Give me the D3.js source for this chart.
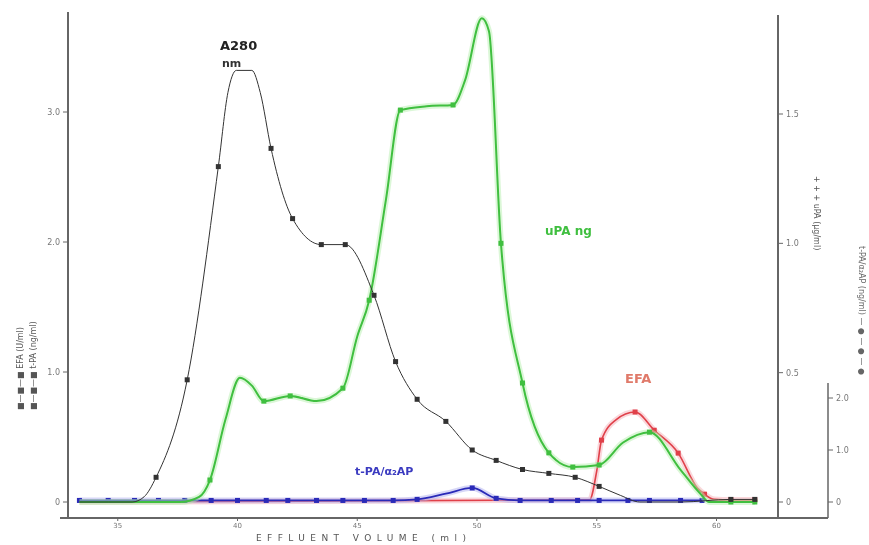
<!DOCTYPE html>
<html>
<head>
<meta charset="utf-8">
<script src="https://cdn.jsdelivr.net/npm/d3@7"></script>
<style>
  body { margin: 0; background: #fff; }
  svg { display: block; font-family: "DejaVu Sans", sans-serif; }
</style>
</head>
<body>
<div id="chart"></div>
<script>
(function() {
    var width = 869,
        height = 545;

    // effluent volume (ml) and values
    var a280Vol = [33.4, 34.6, 35.6, 36.1, 36.6, 37.9, 39.2, 39.6, 39.95, 40.6, 40.95, 41.4, 42.3, 43.5, 44.5, 45.7, 46.6, 47.5, 48.7, 49.8, 50.8, 51.9, 53.0, 54.1, 55.1, 56.0, 56.8, 58.5, 60.6, 61.6];
    var a280Val = [0, 0, 0, 0.04, 0.19, 0.94, 2.58, 3.15, 3.32, 3.32, 3.15, 2.72, 2.18, 1.98, 1.98, 1.59, 1.08, 0.79, 0.62, 0.40, 0.32, 0.25, 0.22, 0.19, 0.12, 0.05, 0, 0, 0.02, 0.02];
    var a280Mark = [0, 0, 0, 0, 1, 1, 1, 0, 0, 0, 0, 1, 1, 1, 1, 1, 1, 1, 1, 1, 1, 1, 1, 1, 1, 0, 0, 0, 1, 1];

    var upaVol = [33.4, 37.6, 38.4, 38.85, 39.5, 40.1, 40.6, 41.1, 42.2, 43.3, 44.4, 45.0, 45.5, 46.2, 46.8, 47.9, 49.0, 49.5, 50.2, 50.5, 51.0, 51.9, 53.0, 54.0, 55.1, 56.1, 57.2, 58.5, 59.3, 59.7, 60.6, 61.6];
    var upaVal = [0, 0, 0.02, 0.085, 0.32, 0.48, 0.45, 0.39, 0.41, 0.39, 0.44, 0.64, 0.78, 1.17, 1.515, 1.53, 1.535, 1.63, 1.87, 1.82, 1.00, 0.46, 0.19, 0.135, 0.143, 0.23, 0.27, 0.124, 0.035, 0, 0, 0];
    var upaMark = [0, 0, 0, 1, 0, 0, 0, 1, 1, 0, 1, 0, 1, 0, 1, 0, 1, 0, 0, 0, 1, 1, 1, 1, 1, 0, 1, 0, 0, 0, 1, 1];

    var efaVol = [33.4, 54.7, 55.0, 55.2, 55.8, 56.6, 57.4, 58.4, 59.2, 59.5, 59.9, 60.6, 61.6];
    var efaVal = [0, 0.04, 0.6, 1.19, 1.58, 1.73, 1.38, 0.94, 0.27, 0.15, 0.05, 0.04, 0.04];
    var efaMark = [0, 0, 0, 1, 0, 1, 1, 1, 0, 1, 0, 1, 1];

    var tpaVol = [33.4, 34.6, 35.7, 36.7, 37.8, 38.9, 40.0, 41.2, 42.1, 43.3, 44.4, 45.3, 46.5, 47.5, 48.7, 49.8, 50.8, 51.8, 53.1, 54.2, 55.1, 56.3, 57.2, 58.5, 59.4];
    var tpaVal = [0.03, 0.03, 0.03, 0.03, 0.03, 0.03, 0.03, 0.03, 0.03, 0.03, 0.03, 0.03, 0.03, 0.05, 0.16, 0.27, 0.07, 0.03, 0.03, 0.03, 0.03, 0.03, 0.03, 0.03, 0.03];
    var tpaMark = [1, 1, 1, 1, 1, 1, 1, 1, 1, 1, 1, 1, 1, 1, 0, 1, 1, 1, 1, 1, 1, 1, 1, 1, 1];

    var xTicks = [35, 40, 45, 50, 55, 60];
    var leftTicks = [0, 1, 2, 3];
    var leftLabels = ["0", "1.0", "2.0", "3.0"];
    var rightTicks = [0, 0.5, 1, 1.5];
    var rightLabels = ["0", "0.5", "1.0", "1.5"];
    var smallTicks = [0, 1, 2];
    var smallLabels = ["0", "1.0", "2.0"];

    var svg = d3.select("#chart")
        .append("svg")
        .attr("width", width)
        .attr("height", height);

    // the scan is soft, so blur everything a little
    svg.append("defs").append("filter")
        .attr("id", "soft")
        .append("feGaussianBlur")
        .attr("stdDeviation", 0.55);

    var g = svg.append("g").attr("filter", "url(#soft)");

    var x = d3.scaleLinear().domain([40, 50]).range([237.5, 477]);
    var yL = d3.scaleLinear().domain([0, 3]).range([502, 112]);
    var yR = d3.scaleLinear().domain([0, 1.5]).range([502, 114]);
    var yS = d3.scaleLinear().domain([0, 2]).range([502, 398]);

    // axes
    var axisColor = "#666";
    g.append("line").attr("x1", 60).attr("x2", 828).attr("y1", 518).attr("y2", 518)
        .attr("stroke", axisColor).attr("stroke-width", 2);
    g.append("line").attr("x1", 68).attr("x2", 68).attr("y1", 12).attr("y2", 518)
        .attr("stroke", axisColor).attr("stroke-width", 2);
    g.append("line").attr("x1", 778).attr("x2", 778).attr("y1", 15).attr("y2", 518)
        .attr("stroke", axisColor).attr("stroke-width", 2);
    g.append("line").attr("x1", 828).attr("x2", 828).attr("y1", 383).attr("y2", 518)
        .attr("stroke", axisColor).attr("stroke-width", 1.5);

    g.selectAll(".xtick")
        .data(xTicks)
        .enter().append("line")
        .attr("x1", function(d) { return x(d) }).attr("x2", function(d) { return x(d) })
        .attr("y1", 518).attr("y2", 521)
        .attr("stroke", axisColor);
    g.selectAll(".xlabel")
        .data(xTicks)
        .enter().append("text")
        .attr("x", function(d) { return x(d) })
        .attr("y", 528)
        .attr("text-anchor", "middle")
        .attr("font-size", 7)
        .attr("fill", "#777")
        .text(function(d) { return d });

    function yTicks(cls, ticks, labels, scale, xPos, side) {
        g.selectAll("." + cls + "-t")
            .data(ticks)
            .enter().append("line")
            .attr("x1", xPos).attr("x2", xPos + 5 * side)
            .attr("y1", function(d) { return scale(d) }).attr("y2", function(d) { return scale(d) })
            .attr("stroke", axisColor);
        g.selectAll("." + cls + "-l")
            .data(ticks)
            .enter().append("text")
            .attr("x", xPos + 8 * side)
            .attr("y", function(d) { return scale(d) + 3 })
            .attr("text-anchor", side < 0 ? "end" : "start")
            .attr("font-size", 8)
            .attr("fill", "#777")
            .text(function(d, i) { return labels[i] });
    }
    yTicks("left", leftTicks, leftLabels, yL, 68, -1);
    yTicks("right", rightTicks, rightLabels, yR, 778, 1);
    yTicks("small", smallTicks, smallLabels, yS, 828, 1);

    function series(vol, val, mark, scale, color, halo, lw) {
        var pts = vol.map(function(v, i) { return { v: v, y: val[i], m: mark[i] } });
        var line = d3.line()
            .x(function(d) { return x(d.v) })
            .y(function(d) { return scale(d.y) })
            .curve(d3.curveMonotoneX);
        if (halo) {
            g.append("path").attr("d", line(pts)).attr("fill", "none")
                .attr("stroke", halo).attr("stroke-width", lw + 4).attr("opacity", 0.5);
        }
        g.append("path").attr("d", line(pts)).attr("fill", "none")
            .attr("stroke", color).attr("stroke-width", lw);
        g.selectAll(null)
            .data(pts.filter(function(d) { return d.m }))
            .enter().append("rect")
            .attr("x", function(d) { return x(d.v) - 2.5 })
            .attr("y", function(d) { return scale(d.y) - 2.5 })
            .attr("width", 5).attr("height", 5)
            .attr("fill", color);
    }

    series(efaVol, efaVal, efaMark, yS, "#e0404a", "#f6b0b8", 1.6);
    series(tpaVol, tpaVal, tpaMark, yS, "#2a2ab8", "#b0b0f0", 1.8);
    series(upaVol, upaVal, upaMark, yR, "#3fbf3f", "#b8f0b0", 2);
    series(a280Vol, a280Val, a280Mark, yL, "#333", null, 1);

    // curve labels
    g.append("text").attr("x", 220).attr("y", 50).attr("font-size", 13).attr("font-weight", "bold")
        .attr("fill", "#222").text("A280");
    g.append("text").attr("x", 222).attr("y", 67).attr("font-size", 11).attr("font-weight", "bold")
        .attr("fill", "#333").text("nm");
    g.append("text").attr("x", 545).attr("y", 235).attr("font-size", 12).attr("font-weight", "bold")
        .attr("fill", "#3fbf3f").text("uPA ng");
    g.append("text").attr("x", 625).attr("y", 383).attr("font-size", 13).attr("font-weight", "bold")
        .attr("fill", "#e07a6a").text("EFA");
    g.append("text").attr("x", 355).attr("y", 475).attr("font-size", 11).attr("font-weight", "bold")
        .attr("fill", "#3a3ac0").text("t-PA/α₂AP");

    g.append("text").attr("x", 256).attr("y", 541).attr("font-size", 9)
        .attr("textLength", 210).attr("lengthAdjust", "spacing")
        .attr("fill", "#555").text("EFFLUENT VOLUME (ml)");

    // rotated axis legends
    g.append("text").attr("transform", "translate(23,410) rotate(-90)")
        .attr("font-size", 8).attr("fill", "#555").text("■—■—■ EFA (U/ml)");
    g.append("text").attr("transform", "translate(36,410) rotate(-90)")
        .attr("font-size", 8).attr("fill", "#555").text("■—■—■ t-PA (ng/ml)");
    g.append("text").attr("transform", "translate(814,176) rotate(90)")
        .attr("font-size", 8).attr("fill", "#555").text("+ + + uPA (µg/ml)");
    g.append("text").attr("transform", "translate(859,246) rotate(90)")
        .attr("font-size", 8).attr("fill", "#666").text("t-PA/α₂AP (ng/ml) — ● — ● — ●");
})();
</script>
</body>
</html>
